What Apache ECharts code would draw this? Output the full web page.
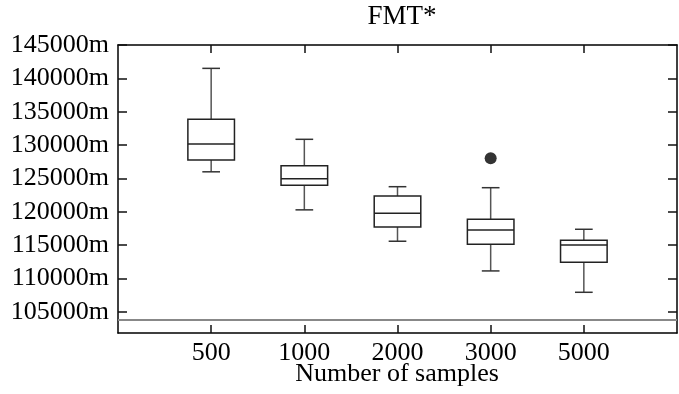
<!DOCTYPE html>
<html>
<head>
<meta charset="utf-8">
<script src="https://cdn.jsdelivr.net/npm/echarts@6/dist/echarts.min.js"></script>
<style>
  html, body { margin: 0; padding: 0; background: #fff; }
  #chart { width: 679px; height: 394px; }
</style>
</head>
<body>
<div id="chart"></div>
<script>
  // sample counts on the x axis
  var categories = ['500', '1000', '2000', '3000', '5000'];
  // [lower whisker, Q1, median, Q3, upper whisker]
  var lowWhisker = [126000, 120300, 115600, 111150, 107950];
  var q1 = [127770, 123980, 117740, 115140, 112450];
  var median = [130170, 124970, 119790, 117290, 115040];
  var q3 = [133870, 126920, 122380, 118890, 115740];
  var highWhisker = [141500, 130870, 123770, 123620, 117390];
  // outliers: [category index, value]
  var outliers = [[3, 128030]];
  var bestKnown = 103800;
  var yTicks = [105000, 110000, 115000, 120000, 125000, 130000, 135000, 140000, 145000];

  var FONT = 'Liberation Serif';
  var BOX_HALF = 0.25, CAP_HALF = 0.095;

  var boxData = categories.map(function (c, i) {
    return [i + 1, lowWhisker[i], q1[i], median[i], q3[i], highWhisker[i]];
  });

  function renderBox(params, api) {
    var x = api.value(0);
    var lo = api.coord([x, api.value(1)]);
    var b1 = api.coord([x - BOX_HALF, api.value(2)]);
    var md = api.coord([x - BOX_HALF, api.value(3)]);
    var b3 = api.coord([x + BOX_HALF, api.value(4)]);
    var hi = api.coord([x, api.value(5)]);
    var capL = api.coord([x - CAP_HALF, api.value(1)])[0];
    var capR = api.coord([x + CAP_HALF, api.value(1)])[0];
    var boxL = b1[0], boxR = b3[0];
    var wl = { stroke: '#555', lineWidth: 1.5 };
    var bl = { stroke: '#222', lineWidth: 1.5, fill: '#fff' };
    return {
      type: 'group',
      children: [
        { type: 'line', shape: { x1: lo[0], y1: lo[1], x2: lo[0], y2: b1[1] }, style: wl },
        { type: 'line', shape: { x1: hi[0], y1: hi[1], x2: hi[0], y2: b3[1] }, style: wl },
        { type: 'line', shape: { x1: capL, y1: lo[1], x2: capR, y2: lo[1] }, style: { stroke: '#333', lineWidth: 1.5 } },
        { type: 'line', shape: { x1: capL, y1: hi[1], x2: capR, y2: hi[1] }, style: { stroke: '#333', lineWidth: 1.5 } },
        { type: 'rect', shape: { x: boxL, y: b3[1], width: boxR - boxL, height: b1[1] - b3[1] }, style: bl },
        { type: 'line', shape: { x1: boxL, y1: md[1], x2: boxR, y2: md[1] }, style: { stroke: '#222', lineWidth: 1.5 } }
      ]
    };
  }

  var frameLine = { show: true, onZero: false, lineStyle: { color: '#000', width: 1.5 } };
  var tickStyle = { color: '#111', width: 1.5 };
  var catTicks = categories.map(function (c, i) { return i + 1; });

  var chart = echarts.init(document.getElementById('chart'));
  chart.setOption({
    animation: false,
    title: [{
      text: 'FMT*', left: 397, top: -2, textAlign: 'center',
      textStyle: { fontFamily: FONT, fontSize: 27, fontWeight: 'normal', color: '#000' }
    }, {
      text: 'Number of samples', left: 397, top: 361, padding: 0, textAlign: 'center',
      textStyle: { fontFamily: FONT, fontSize: 26, fontWeight: 'normal', color: '#000' }
    }],
    grid: { left: 118, right: 2, top: 45, bottom: 61, containLabel: false, outerBoundsMode: 'none' },
    xAxis: [{
      type: 'value', min: 0, max: 6, position: 'bottom',
      axisLine: frameLine, splitLine: { show: false },
      axisTick: { show: true, inside: true, length: 8, lineStyle: tickStyle, customValues: catTicks },
      axisLabel: {
        customValues: catTicks, margin: 7,
        fontFamily: FONT, fontSize: 26, color: '#000',
        formatter: function (v) { return categories[v - 1] || ''; }
      }
    }, {
      type: 'value', min: 0, max: 6, position: 'top',
      axisLine: frameLine, splitLine: { show: false },
      axisTick: { show: true, inside: true, length: 8, lineStyle: tickStyle, customValues: catTicks },
      axisLabel: { show: false }
    }],
    yAxis: [{
      type: 'value', min: 101850, max: 145000, position: 'left',
      axisLine: frameLine, splitLine: { show: false },
      axisTick: { show: true, inside: true, length: 9, lineStyle: tickStyle, customValues: yTicks },
      axisLabel: {
        customValues: yTicks, margin: 9,
        fontFamily: FONT, fontSize: 26, color: '#000',
        formatter: function (v) { return v + 'm'; }
      }
    }, {
      type: 'value', min: 101850, max: 145000, position: 'right',
      axisLine: frameLine, splitLine: { show: false },
      axisTick: { show: true, inside: true, length: 9, lineStyle: tickStyle, customValues: yTicks },
      axisLabel: { show: false }
    }],
    series: [{
      type: 'custom',
      renderItem: renderBox,
      data: boxData,
      encode: { x: 0, y: [1, 2, 3, 4, 5] },
      z: 3,
      markLine: {
        silent: true, symbol: 'none', label: { show: false },
        lineStyle: { color: '#888', width: 2, type: 'solid' },
        data: [{ yAxis: bestKnown }]
      }
    }, {
      type: 'scatter',
      data: outliers.map(function (o) { return [o[0] + 1, o[1]]; }),
      symbol: 'circle', symbolSize: 12,
      itemStyle: { color: '#000' },
      z: 4
    }]
  });
</script>
</body>
</html>
